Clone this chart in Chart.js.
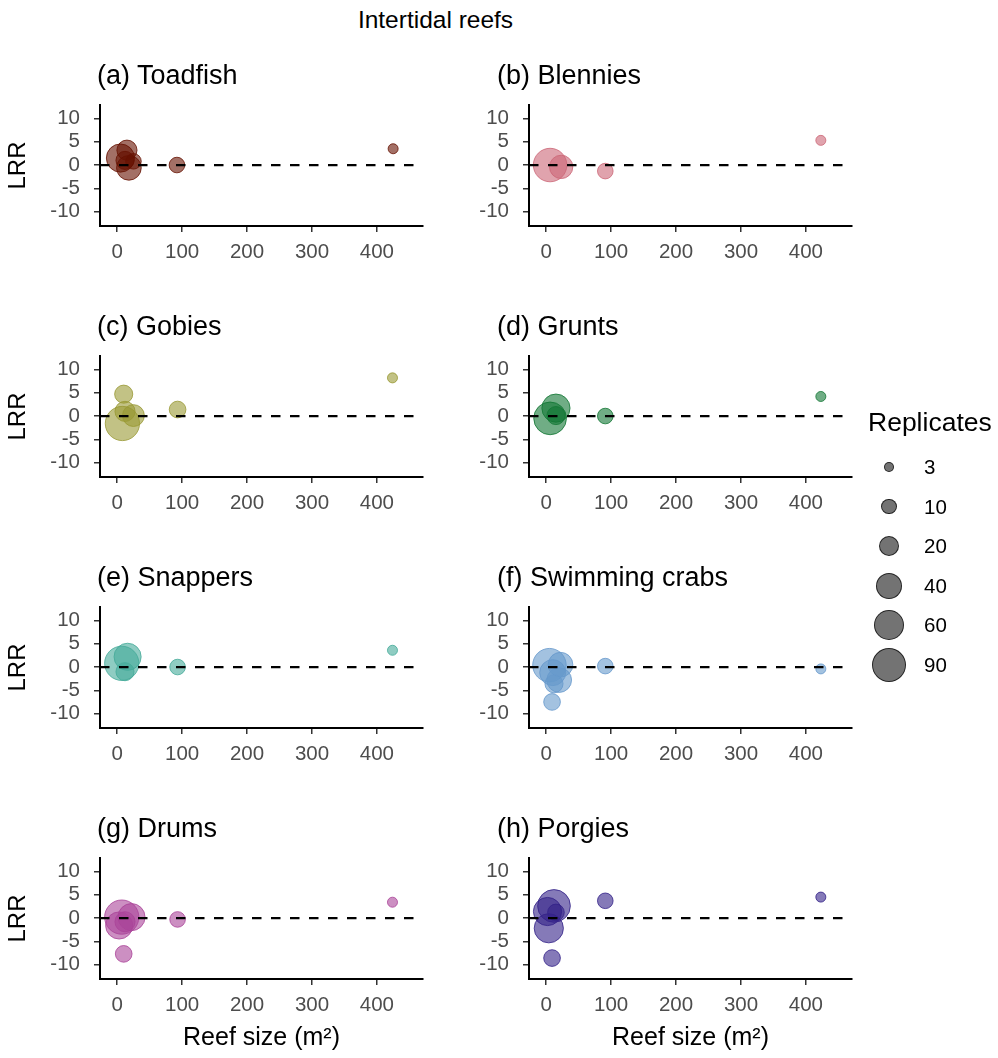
<!DOCTYPE html>
<html>
<head>
<meta charset="utf-8">
<script src="https://cdn.jsdelivr.net/npm/chart.js@4.4.1/dist/chart.umd.min.js"></script>
<style>
  body { margin: 0; background: #fff; font-family: "Liberation Sans", Arial, sans-serif; }
  #fig { position: relative; width: 998px; height: 1058px; overflow: hidden; }
  #fig canvas { position: absolute; }
  .txt { position: absolute; white-space: nowrap; color: #000; }
  .ptitle { font-size: 27px; line-height: 30px; }
  .dot { position: absolute; border-radius: 50%; box-sizing: border-box;
         background: rgba(0,0,0,0.55); border: 1px solid rgba(0,0,0,0.7); }
</style>
</head>
<body>
<div id="fig">
  <div class="txt" style="left:0; width:871px; top:6px; text-align:center; font-size:24.5px; line-height:28px;">Intertidal reefs</div>
</div>
<script>
// 패널 제목 / 색
const panelTitles = ['(a) Toadfish', '(b) Blennies', '(c) Gobies', '(d) Grunts',
                     '(e) Snappers', '(f) Swimming crabs', '(g) Drums', '(h) Porgies'];
const panelColors = ['#661100', '#CC6677', '#999933', '#117733',
                     '#44AA99', '#6699CC', '#AA4499', '#332288'];

// 그림에서 읽은 값: 암초 크기(m2), LRR, 반복 수
const toadfishSize = [5, 15, 18, 12, 25, 92, 425];
const toadfishLRR  = [1.5, 3.2, -0.6, 1.0, 0.8, 0.0, 3.5];
const toadfishReps = [50, 20, 35, 15, 10, 10, 3];

const blenniesSize = [6, 23, 91, 423];
const blenniesLRR  = [0.0, -0.4, -1.3, 5.3];
const blenniesReps = [80, 30, 10, 3];

const gobiesSize = [10, 12, 25, 8, 93, 424];
const gobiesLRR  = [4.7, 1.0, 0.1, -1.6, 1.4, 8.2];
const gobiesReps = [15, 20, 25, 85, 12, 3];

const gruntsSize = [6, 15, 15, 91, 423];
const gruntsLRR  = [-0.5, 1.7, 0.1, 0.0, 4.2];
const gruntsReps = [75, 50, 15, 10, 3];

const snappersSize = [16, 7, 12, 93, 424];
const snappersLRR  = [2.2, 0.8, -1.0, 0.0, 3.6];
const snappersReps = [45, 85, 15, 10, 3];

const crabsSize = [5, 22, 20, 10, 12, 9, 91, 423];
const crabsLRR  = [0.4, 0.5, -2.8, -1.2, -3.6, -7.5, 0.2, -0.4];
const crabsReps = [80, 35, 35, 40, 15, 12, 10, 3];

const drumsSize = [7, 22, 3, 12, 10, 93, 424];
const drumsLRR  = [0.2, 0.2, -1.6, -0.8, -7.7, -0.3, 3.4];
const drumsReps = [85, 45, 45, 20, 12, 10, 3];

const porgiesSize = [12, 2, 4, 15, 9, 91, 423];
const porgiesLRR  = [2.6, 1.4, -2.2, 1.2, -8.6, 3.7, 4.5];
const porgiesReps = [75, 50, 55, 12, 12, 10, 3];

const xTickValues = [0, 100, 200, 300, 400];
const yTickValues = [-10, -5, 0, 5, 10];
const legendReps = [3, 10, 20, 40, 60, 90];

const panelData = [
  [toadfishSize, toadfishLRR, toadfishReps],
  [blenniesSize, blenniesLRR, blenniesReps],
  [gobiesSize, gobiesLRR, gobiesReps],
  [gruntsSize, gruntsLRR, gruntsReps],
  [snappersSize, snappersLRR, snappersReps],
  [crabsSize, crabsLRR, crabsReps],
  [drumsSize, drumsLRR, drumsReps],
  [porgiesSize, porgiesLRR, porgiesReps]
];

// 반복 수 -> 반지름(px)
function bubbleRadius(n) {
  return 3.34 * Math.pow(n, 0.368);
}

function rgba(hex, a) {
  const v = parseInt(hex.slice(1), 16);
  return `rgba(${(v >> 16) & 255},${(v >> 8) & 255},${v & 255},${a})`;
}

const FONT = '"Liberation Sans", Arial, sans-serif';
Chart.defaults.font.family = FONT;

// y=0 점선 (점 위에 그림)
const zeroLine = {
  id: 'zeroLine',
  afterDatasetsDraw(chart) {
    const { ctx, chartArea: a } = chart;
    const py = chart.scales.y.getPixelForValue(0);
    ctx.save();
    ctx.strokeStyle = '#000';
    ctx.lineWidth = 2.3;
    ctx.setLineDash([9.5, 9.5]);
    ctx.beginPath();
    ctx.moveTo(a.left, py);
    ctx.lineTo(a.right, py);
    ctx.stroke();
    ctx.restore();
  }
};

const fig = document.getElementById('fig');
const colLeft = [0, 429];
const areaTop = [105, 356, 607, 858];
const titleLeft = [97, 497];
const PAD_TOP = 30;
const PLOT_H = 121;
const CANVAS_W = 453;

panelData.forEach(([sizes, lrr, reps], i) => {
  const col = i % 2;
  const row = Math.floor(i / 2);
  const bottomRow = row === 3;
  const xAxisH = bottomRow ? 75 : 40;

  const canvas = document.createElement('canvas');
  canvas.width = CANVAS_W;
  canvas.height = PAD_TOP + PLOT_H + xAxisH;
  canvas.style.left = colLeft[col] + 'px';
  canvas.style.top = (areaTop[row] - PAD_TOP) + 'px';
  fig.appendChild(canvas);

  const title = document.createElement('div');
  title.className = 'txt ptitle';
  title.style.left = titleLeft[col] + 'px';
  title.style.top = (areaTop[row] - 45) + 'px';
  title.textContent = panelTitles[i];
  fig.appendChild(title);

  const pts = sizes.map((x, k) => ({ x: x, y: lrr[k], r: bubbleRadius(reps[k]) }));
  const c = panelColors[i];

  new Chart(canvas, {
    type: 'bubble',
    data: {
      datasets: [{
        data: pts,
        backgroundColor: rgba(c, 0.6),
        borderColor: rgba(c, 0.8),
        borderWidth: 1,
        hoverRadius: 0
      }]
    },
    options: {
      responsive: false,
      animation: false,
      devicePixelRatio: 1,
      events: [],
      layout: { padding: { top: PAD_TOP, right: 30, left: 0, bottom: 0 } },
      plugins: { legend: { display: false }, tooltip: { enabled: false } },
      scales: {
        x: {
          type: 'linear',
          min: -26.5,
          max: 471,
          afterBuildTicks: s => { s.ticks = xTickValues.map(v => ({ value: v })); },
          afterFit: s => { s.height = xAxisH; },
          ticks: { color: '#4d4d4d', font: { size: 20.5 }, padding: 8, maxRotation: 0 },
          grid: { drawOnChartArea: false, color: '#333', lineWidth: 1.5, tickLength: 6 },
          border: { color: '#000', width: 2 },
          title: {
            display: bottomRow,
            text: 'Reef size (m²)',
            color: '#000',
            font: { size: 25 },
            padding: { top: 0, bottom: 1 }
          }
        },
        y: {
          type: 'linear',
          min: -13.1,
          max: 12.9,
          afterBuildTicks: s => { s.ticks = yTickValues.map(v => ({ value: v })); },
          afterFit: s => { s.width = 100; },
          ticks: { color: '#4d4d4d', font: { size: 20.5 }, padding: 14 },
          grid: { drawOnChartArea: false, color: '#333', lineWidth: 1.5, tickLength: 6 },
          border: { color: '#000', width: 2 },
          title: {
            display: col === 0,
            text: 'LRR',
            color: '#000',
            font: { size: 24 },
            padding: { top: 4, bottom: 0 }
          }
        }
      }
    },
    plugins: [zeroLine]
  });
});

// 범례 (Replicates)
const legTitle = document.createElement('div');
legTitle.className = 'txt';
legTitle.style.cssText = 'left:868px; top:407px; font-size:26.5px; line-height:30px;';
legTitle.textContent = 'Replicates';
fig.appendChild(legTitle);

legendReps.forEach((n, k) => {
  const cy = 467 + k * 39.6;
  const r = bubbleRadius(n);
  const dot = document.createElement('div');
  dot.className = 'dot';
  dot.style.left = (889 - r) + 'px';
  dot.style.top = (cy - r) + 'px';
  dot.style.width = (2 * r) + 'px';
  dot.style.height = (2 * r) + 'px';
  fig.appendChild(dot);

  const lab = document.createElement('div');
  lab.className = 'txt';
  lab.style.cssText = `left:924px; top:${cy - 12}px; font-size:20.5px; line-height:24px;`;
  lab.textContent = String(n);
  fig.appendChild(lab);
});
</script>
</body>
</html>
